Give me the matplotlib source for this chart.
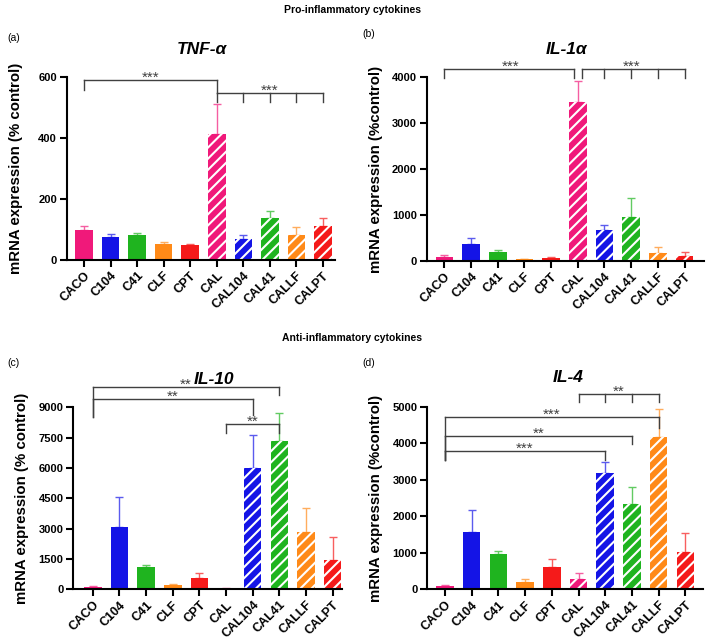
import matplotlib
matplotlib.use("Agg")
import matplotlib.pyplot as plt
import numpy as np

plt.rcParams["font.family"] = ["Liberation Sans", "DejaVu Sans"]
plt.rcParams["font.weight"] = "bold"
plt.rcParams["hatch.linewidth"] = 1.5

W, H = 709, 644

# groups and colours
groups = ["CACO", "C104", "C41", "CLF", "CPT", "CAL", "CAL104", "CAL41", "CALLF", "CALPT"]
colors = ["#f0197a", "#1414e6", "#1fb41f", "#ff8a18", "#f51a1a",
          "#f0197a", "#1414e6", "#1fb41f", "#ff8a18", "#f51a1a"]
hatched = [False] * 5 + [True] * 5

# means and (upper) error
tnf_mean = [99, 75, 81, 53, 48, 412, 69, 138, 81, 110]
tnf_err = [14, 10, 7, 6, 6, 99, 14, 22, 26, 27]
il1_mean = [90, 363, 188, 40, 70, 3460, 672, 962, 166, 108]
il1_err = [50, 127, 62, 10, 20, 460, 118, 398, 130, 87]
il10_mean = [110, 3065, 1087, 200, 577, 20, 5990, 7330, 2810, 1460]
il10_err = [40, 1485, 133, 80, 213, 20, 1660, 1370, 1210, 1110]
il4_mean = [82, 1569, 958, 200, 602, 274, 3193, 2345, 4160, 1013]
il4_err = [46, 603, 100, 92, 228, 182, 301, 465, 785, 538]

# significance brackets: (x positions, bar height, drop bottoms, label, label x)
tnf_sig = [([0, 5], 589, [559, 546], "***", 2.5),
           ([5, 6, 7, 8, 9], 546, [518] * 5, "***", 7)]
il1_sig = [([0, 4.85], 4181, [3986, 3986], "***", 2.5),
           ([5.15, 6, 7, 8, 9], 4181, [3986] * 5, "***", 7)]
il10_sig = [([0, 7], 10020, [8540, 9610], "**", 3.5),
            ([0, 6], 9410, [8540, 8600], "**", 3),
            ([5, 7], 8175, [7750, 7750], "**", 6)]
il4_sig = [([5, 6, 7, 8], 5347, [5137] * 4, "**", 6.5),
           ([0, 8], 4708, [3540, 4407], "***", 4),
           ([0, 7], 4197, [3540, 3978], "**", 3.5),
           ([0, 6], 3796, [3540, 3540], "***", 3)]


def lighten(c, f=0.3):
    rgb = np.array(matplotlib.colors.to_rgb(c))
    return tuple(rgb + (1 - rgb) * f)


def box(l, r, top, bottom):
    return [l / W, 1 - bottom / H, (r - l) / W, (bottom - top) / H]


fig = plt.figure(figsize=(W / 100, H / 100), dpi=100)

panels = [
    (box(66.7, 335, 77, 260), tnf_mean, tnf_err, (0, 600), 200, (-0.66, 9.46),
     "mRNA expression (% control)", tnf_sig, "TNF-α", (202, 49), "(a)", (7, 38)),
    (box(426.7, 704, 77, 261), il1_mean, il1_err, (0, 4000), 1000, (-0.66, 9.73),
     "mRNA expression (%control)", il1_sig, "IL-1α", (567, 49), "(b)", (362, 34)),
    (box(73.3, 342, 407.3, 589.3), il10_mean, il10_err, (0, 9000), 1500, (-0.73, 9.35),
     "mRNA expression (% control)", il10_sig, "IL-10", (214, 379), "(c)", (7, 363)),
    (box(427.3, 703, 406.7, 589.3), il4_mean, il4_err, (0, 5000), 1000, (-0.66, 9.66),
     "mRNA expression (%control)", il4_sig, "IL-4", (568, 377), "(d)", (362, 363)),
]

x = np.arange(len(groups))
for rect, mean, err, ylim, ystep, xlim, ylabel, sig, title, tpos, tag, tagpos in panels:
    ax = fig.add_axes(rect)
    for i in range(len(groups)):
        if hatched[i]:
            ax.bar(x[i], mean[i], width=0.66, color=colors[i], edgecolor="white",
                   hatch="///", linewidth=0, zorder=2)
        else:
            ax.bar(x[i], mean[i], width=0.66, color=colors[i], linewidth=0, zorder=2)
        ax.errorbar(x[i], mean[i], yerr=[[0], [err[i]]], fmt="none",
                    ecolor=lighten(colors[i]), elinewidth=1.0, capsize=3,
                    capthick=1.0, zorder=1)
    ax.set_xlim(*xlim)
    ax.set_ylim(*ylim)
    ax.set_yticks(np.arange(ylim[0], ylim[1] + 1, ystep))
    ax.set_xticks(x)
    ax.set_xticklabels(groups, rotation=45, ha="right", va="top",
                       rotation_mode="anchor", fontsize=9, fontweight="bold")
    for lab in ax.get_yticklabels():
        lab.set_fontsize(8)
        lab.set_fontweight("bold")
    ax.spines["top"].set_visible(False)
    ax.spines["right"].set_visible(False)
    ax.spines["left"].set_linewidth(1.5)
    ax.spines["bottom"].set_linewidth(1.5)
    ax.tick_params(width=1.5, length=5, pad=2)
    ax.set_ylabel(ylabel, fontsize=10.8, fontweight="bold")
    axw = rect[2] * W
    ax.yaxis.set_label_coords(-44 / axw, 0.5)

    for xs, y, bottoms, lab, lx in sig:
        ax.plot([xs[0], xs[-1]], [y, y], color="#404040", lw=1.0, clip_on=False)
        for xx, yb in zip(xs, bottoms):
            ax.plot([xx, xx], [y, yb], color="#404040", lw=1.0, clip_on=False)
        ax.annotate(lab, (lx, y), xytext=(0, -1.3), textcoords="offset points",
                    ha="center", va="baseline", fontsize=11, fontweight="normal",
                    color="#404040", annotation_clip=False)

    fig.text(tpos[0] / W, 1 - tpos[1] / H, title, ha="center", va="center",
             fontsize=12.5, fontweight="bold", style="italic")
    fig.text(tagpos[0] / W, 1 - tagpos[1] / H, tag, ha="left", va="center",
             fontsize=7.5, fontweight="normal")

fig.text(352 / W, 1 - 10 / H, "Pro-inflammatory cytokines", ha="center", va="center",
         fontsize=7.5, fontweight="bold")
fig.text(352 / W, 1 - 338 / H, "Anti-inflammatory cytokines", ha="center", va="center",
         fontsize=7.5, fontweight="bold")

fig.savefig("out.png", dpi=100)
